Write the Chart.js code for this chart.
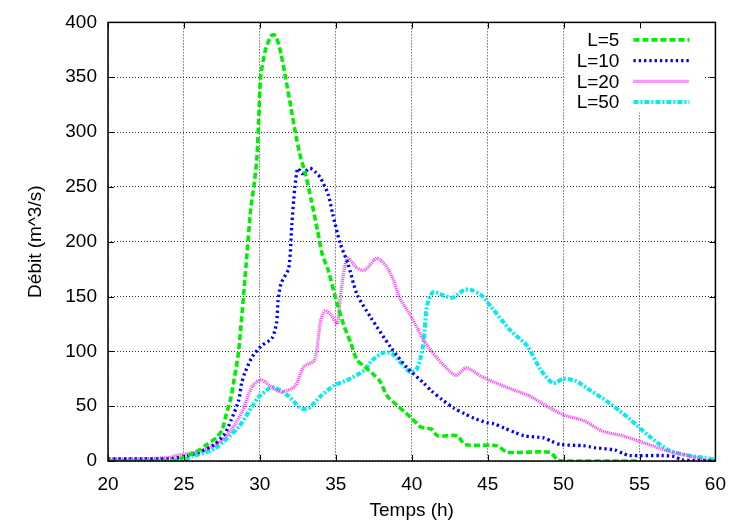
<!DOCTYPE html>
<html>
<head>
<meta charset="utf-8">
<script src="https://cdn.jsdelivr.net/npm/chart.js@4/dist/chart.umd.min.js"></script>
<style>
  html, body { margin: 0; padding: 0; background: #fff; }
</style>
</head>
<body>
<canvas id="myChart" width="738" height="526"></canvas>
<script>
// valeurs (temps en h, débit en m^3/s)
const labels = ['L=5', 'L=10', 'L=20', 'L=50'];

const tempsL5 = [20, 22, 24, 24.5, 25.1, 26, 26.5, 27.1, 27.5, 27.8, 28.1, 28.3, 28.6, 29.1, 29.4, 29.6, 29.8, 29.95, 30.05, 30.35, 30.7, 30.9, 31.1, 31.4, 31.7, 32.05, 32.4, 32.7, 33.0, 33.4, 33.8, 34.1, 34.5, 35.1, 35.5, 36.0, 36.4, 36.9, 37.4, 37.9, 38.4, 39.1, 39.6, 40.0, 40.6, 41.3, 41.7, 43.0, 43.5, 45.6, 46.3, 49.1, 49.6, 50, 55];
const debitL5 = [0, 0, 0, 1, 4, 10, 15, 21, 28, 43, 58, 74, 100, 180, 230, 250, 275, 320, 350, 374, 387, 389, 386, 371, 349, 322, 295, 276, 262, 237, 210, 189, 174, 143, 125, 107, 92, 86, 80, 73, 59, 50, 44, 39, 31, 29, 23, 23, 15, 14, 8, 8, 1, 0, 0];

const tempsL10 = [20, 22, 24, 25, 26, 27, 27.7, 28.1, 28.6, 28.8, 29.0, 29.5, 30.1, 30.8, 31.1, 31.2, 31.4, 31.9, 32.1, 32.3, 32.5, 32.8, 33.3, 33.7, 34.0, 34.5, 34.8, 35.3, 35.8, 36.4, 37.3, 38.6, 39.7, 40.8, 41.3, 42.0, 42.8, 43.5, 44.1, 44.95, 45.4, 46.1, 46.8, 47.4, 48.7, 49.2, 49.8, 51.3, 51.7, 52.1, 53.4, 53.9, 54.3, 56.5, 57.3, 57.8, 60];
const debitL10 = [2, 2, 2, 4, 8, 15, 25, 37, 55, 71, 80, 95, 105, 112, 126, 146, 162, 176, 215, 249, 267, 262, 267, 263, 258, 243, 225, 198, 180, 152, 131, 104, 85, 71, 64, 56, 48, 43, 39, 35, 34, 30, 26, 23, 21, 18, 15, 14, 13, 12, 10, 7, 5, 5, 4, 1, 0];

const tempsL20 = [20, 22, 24, 24.5, 25, 26, 27, 27.5, 28.1, 28.8, 29.5, 30.1, 30.8, 31.4, 32.3, 32.9, 33.6, 34.0, 34.3, 34.7, 35.1, 35.3, 35.6, 35.8, 36.4, 36.9, 37.7, 38.3, 38.8, 39.2, 40.0, 40.8, 41.6, 42.9, 43.6, 44.6, 46.1, 47.8, 48.9, 50.0, 51.3, 52.6, 53.9, 55.4, 56.9, 58.2, 59.3, 60];
const debitL20 = [2, 2, 3, 5, 6, 9, 14, 19, 28, 44, 68, 74, 67, 63, 68, 86, 92, 128, 137, 133, 125, 150, 178, 185, 176, 174, 185, 178, 165, 149, 131, 110, 95, 78, 85, 77, 68, 59, 50, 42, 37, 27, 23, 16, 9, 5, 1, 0];

const tempsL50 = [20, 22, 24, 25, 25.6, 26, 27.1, 28.6, 29.5, 29.9, 30.6, 31.0, 31.9, 32.7, 33.2, 34.0, 34.9, 35.8, 36.9, 37.4, 38.2, 38.7, 39.5, 39.9, 40.3, 40.6, 40.8, 41.0, 41.4, 42.1, 42.7, 43.45, 43.9, 44.6, 45.2, 46.5, 47.6, 48.5, 49.3, 50.0, 50.8, 51.7, 53.0, 54.3, 55.6, 56.9, 58.2, 59.3, 60];
const debitL50 = [0, 0, 0, 1, 5, 6, 12, 31, 50, 58, 66, 67, 59, 48, 48, 59, 69, 74, 83, 92, 99, 98, 86, 81, 83, 95, 110, 141, 154, 151, 149, 156, 156, 151, 141, 119, 105, 83, 71, 75, 73, 65, 53, 39, 23, 10, 5, 3, 1];

const xTicks = [20, 25, 30, 35, 40, 45, 50, 55, 60];
const yTicks = [0, 50, 100, 150, 200, 250, 300, 350, 400];

const couleurs = ['#00ee00', '#0000ff', '#ff33ff', '#00eeee'];
const tirets = [[6, 3], [2.3, 3], [1, 1], [5, 2, 2, 2]];
const epaisseurs = [3.6, 3.3, 3.3, 4];

const police = "'Liberation Sans', Arial, sans-serif";
const ctx = document.getElementById('myChart');

function points(xs, ys) {
    return xs.map((x, i) => ({ x: x, y: ys[i] }));
}

const series = [
    points(tempsL5, debitL5),
    points(tempsL10, debitL10),
    points(tempsL20, debitL20),
    points(tempsL50, debitL50)
];

// cadre, petites graduations intérieures et légende style gnuplot
const cadreGnuplot = {
    id: 'cadreGnuplot',
    beforeDatasetsDraw(chart) {
        const a = chart.chartArea;
        const c = chart.ctx;
        c.save();
        c.fillStyle = '#fff';
        c.fillRect(a.right - 151, a.top + 1, 139, 89);
        c.restore();
    },
    afterDatasetsDraw(chart) {
        const a = chart.chartArea;
        const c = chart.ctx;
        const sx = chart.scales.x;
        const sy = chart.scales.y;
        c.save();
        c.strokeStyle = '#000';
        c.lineWidth = 1;
        c.setLineDash([]);
        for (let v of xTicks) {
            const px = Math.round(sx.getPixelForValue(v)) + 0.5;
            c.beginPath();
            c.moveTo(px, a.bottom); c.lineTo(px, a.bottom - 6);
            c.moveTo(px, a.top); c.lineTo(px, a.top + 6);
            c.stroke();
        }
        for (let v of yTicks) {
            const py = Math.round(sy.getPixelForValue(v)) + 0.5;
            c.beginPath();
            c.moveTo(a.left, py); c.lineTo(a.left + 6, py);
            c.moveTo(a.right, py); c.lineTo(a.right - 6, py);
            c.stroke();
        }
        c.lineWidth = 1.5;
        c.strokeRect(a.left, a.top, a.right - a.left, a.bottom - a.top);

        // légende
        c.font = '19px ' + police;
        c.textAlign = 'right';
        c.textBaseline = 'middle';
        chart.data.datasets.forEach((ds, i) => {
            const y = a.top + 17.5 + i * 20.7;
            c.fillStyle = '#000';
            c.fillText(ds.label, a.right - 96, y + 1);
            c.strokeStyle = ds.borderColor;
            c.lineWidth = ds.borderWidth;
            c.setLineDash(ds.borderDash);
            c.beginPath();
            c.moveTo(a.right - 82, y);
            c.lineTo(a.right - 26, y);
            c.stroke();
        });
        c.restore();
    }
};

new Chart(ctx, {
    type: 'line',
    data: {
        datasets: series.map((s, i) => ({
            label: labels[i],
            data: s,
            borderColor: couleurs[i],
            borderWidth: epaisseurs[i],
            borderDash: tirets[i],
            borderCapStyle: 'butt',
            pointRadius: 0,
            tension: 0.25,
            fill: false
        }))
    },
    options: {
        responsive: false,
        devicePixelRatio: 1,
        animation: false,
        layout: { padding: { left: 20, right: 16, top: 21, bottom: 0 } },
        plugins: { legend: { display: false }, tooltip: { enabled: false } },
        scales: {
            x: {
                type: 'linear',
                min: 20,
                max: 60,
                afterFit: (scale) => { scale.height = 65; },
                afterBuildTicks: (scale) => { scale.ticks = xTicks.map(v => ({ value: v })); },
                grid: { color: '#333', lineWidth: 1, drawTicks: false },
                border: { display: false, dash: [1, 2] },
                ticks: { color: '#000', padding: 12, maxRotation: 0, font: { family: police, size: 19 } },
                title: { display: true, text: 'Temps (h)', color: '#000', font: { family: police, size: 19 } }
            },
            y: {
                min: 0,
                max: 400,
                afterFit: (scale) => { scale.width = 88; },
                afterBuildTicks: (scale) => { scale.ticks = yTicks.map(v => ({ value: v })); },
                grid: { color: '#333', lineWidth: 1, drawTicks: false },
                border: { display: false, dash: [1, 2] },
                ticks: { color: '#000', padding: 11, font: { family: police, size: 19 } },
                title: { display: true, text: 'Débit (m^3/s)', color: '#000', font: { family: police, size: 19 } }
            }
        }
    },
    plugins: [cadreGnuplot]
});
</script>
</body>
</html>
